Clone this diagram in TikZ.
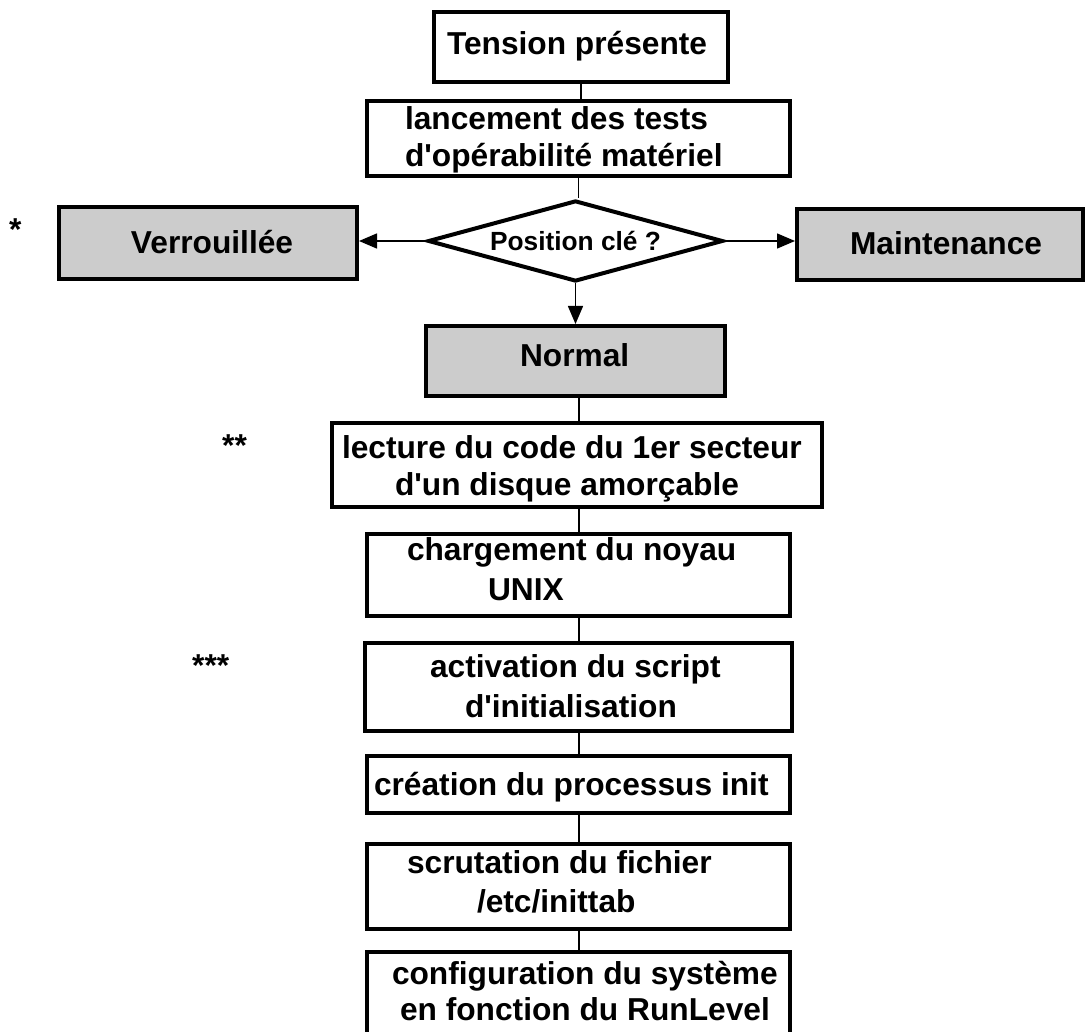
\documentclass[tikz,border=0pt]{standalone}
\usepackage{fontspec}
\setmainfont{Liberation Sans}
\usetikzlibrary{shapes.geometric,arrows.meta}
\definecolor{gris}{gray}{0.8}

\begin{document}
\begin{tikzpicture}[x=1pt,y=-1pt,
      etape/.style={draw,line width=4pt,inner sep=0pt,align=flush left,anchor=north west,
                    font=\bfseries\fontsize{31.7}{38}\selectfont},
      etapegrise/.style={etape,fill=gris},
      choix/.style={diamond,draw,line width=4pt,aspect=3.6,inner sep=0pt,
                    minimum width=295pt,minimum height=81pt,
                    font=\bfseries\fontsize{26.3}{30}\selectfont},
      etoile/.style={anchor=base west,inner sep=0pt,font=\bfseries\fontsize{31.7}{38}\selectfont},
      lien/.style={line width=1.5pt},
      fleche/.style={lien,-{Triangle[length=18pt,width=15pt]}}]
    \useasboundingbox (0,0) rectangle (1085,1032);
    \clip (0,0) rectangle (1085,1032);

    \node[etape,text width=294pt,text height=43pt,text depth=27pt] (tension) at (432,10)
        {\hspace*{13pt}Tension présente};
    \node[etape,text width=423pt,text height=29pt,text depth=46pt] (lancement) at (365,99)
        {\hspace*{38pt}lancement des tests\\[-1pt]\hspace*{38pt}d\textquotesingle opérabilité matériel};
    \node[choix] (cle) at (575.5,241) {Position clé ?};
    \node[etapegrise,text width=298pt,text height=47pt,text depth=25pt] (verrou) at (57,205)
        {\hspace*{72pt}Verrouillée};
    \node[etapegrise,text width=286pt,text height=46pt,text depth=25pt] (maint) at (795,207)
        {\hspace*{53pt}Maintenance};
    \node[etapegrise,text width=299pt,text height=41pt,text depth=29pt] (normal) at (424,324)
        {\hspace*{94pt}Normal};
    \node[etape,text width=490pt,text height=35pt,text depth=49pt] (lecture) at (330,421)
        {\hspace*{10pt}lecture du code du 1er secteur\\[-1pt]\hspace*{63pt}d\textquotesingle un disque amorçable};
    \node[etape,text width=423pt,text height=26pt,text depth=56pt] (noyau) at (365,532)
        {\hspace*{40pt}chargement du noyau\\[2pt]\hspace*{121pt}UNIX};
    \node[etape,text width=427pt,text height=34pt,text depth=54pt] (script) at (363,641)
        {\hspace*{65pt}activation du script\\[2pt]\hspace*{100pt}d\textquotesingle initialisation};
    \node[etape,text width=423pt,text height=39pt,text depth=18pt] (init) at (365,754)
        {\hspace*{7pt}création du processus init};
    \node[etape,text width=423pt,text height=29pt,text depth=56pt] (inittab) at (365,842)
        {\hspace*{40pt}scrutation du fichier\\[1pt]\hspace*{110pt}/etc/inittab};
    \node[etape,text width=423pt,text height=32pt,text depth=61pt] (runlevel) at (365,950)
        {\hspace*{25pt}configuration du système\\[-2pt]\hspace*{33pt}en fonction du RunLevel};

    \node[etoile] (etoile1) at (9,241) {*};
    \node[etoile] (etoile2) at (222,456) {**};
    \node[etoile] (etoile3) at (192,676) {***};

    \coordinate (axe) at (579,0);
    \draw[lien] (tension) -- (tension |- lancement.north);
    \draw[lien] (lancement) -- (lancement |- cle.north);
    \draw[fleche] (cle.west) -- (cle.west -| verrou.east);
    \draw[fleche] (cle.east) -- (cle.east -| maint.west);
    \draw[fleche] (cle.south) -- (cle.south |- normal.north);
    \draw[lien] (normal.south -| axe) -- (lecture.north -| axe);
    \draw[lien] (lecture.south -| axe) -- (noyau.north -| axe);
    \draw[lien] (noyau.south -| axe) -- (script.north -| axe);
    \draw[lien] (script.south -| axe) -- (init.north -| axe);
    \draw[lien] (init.south -| axe) -- (inittab.north -| axe);
    \draw[lien] (inittab.south -| axe) -- (runlevel.north -| axe);
\end{tikzpicture}
\end{document}
